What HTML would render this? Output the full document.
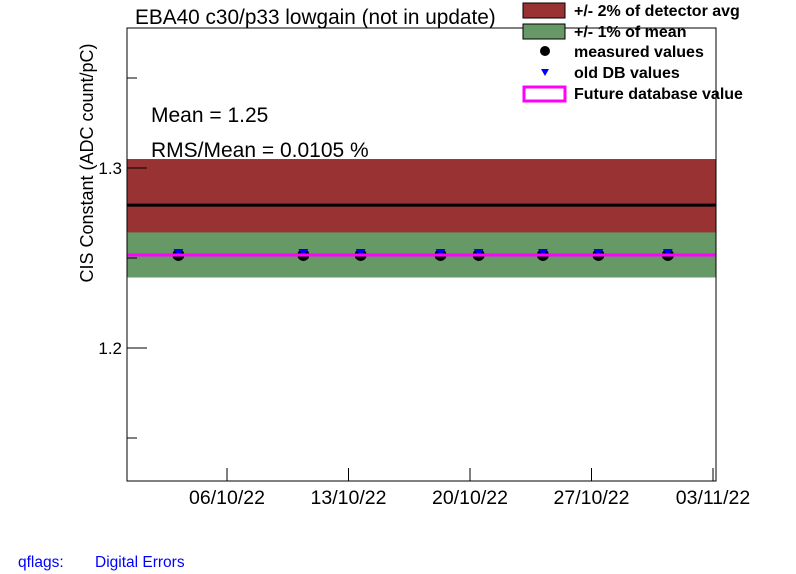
<!DOCTYPE html>
<html><head><meta charset="utf-8">
<style>
body{margin:0;background:#fff;}
svg{display:block;font-family:"Liberation Sans",Arial,sans-serif;}
</style></head>
<body>
<svg id="c" width="796" height="574" viewBox="0 0 796 574">
<rect width="796" height="574" fill="#fff"/>
<g id="plot"></g>
<text x="135" y="24" font-size="20.8">EBA40 c30/p33 lowgain (not in update)</text>
<text x="151" y="122" font-size="21">Mean = 1.25</text>
<text x="151" y="157" font-size="21">RMS/Mean = 0.0105 %</text>
<text transform="translate(93,163) rotate(-90)" text-anchor="middle" font-size="18">CIS Constant (ADC count/pC)</text>
<g font-size="16" font-weight="bold">
<rect x="523" y="3" width="42" height="15" fill="#993333" stroke="#000" stroke-width="1"/>
<text x="574" y="16">+/- 2% of detector avg</text>
<rect x="523" y="24" width="42" height="15" fill="#669966" stroke="#000" stroke-width="1"/>
<text x="574" y="37">+/- 1% of mean</text>
<circle cx="545" cy="51" r="5" fill="#000"/>
<text x="574" y="57">measured values</text>
<polygon points="541,69 549,69 545,76" fill="#0000ff"/>
<text x="574" y="78">old DB values</text>
<rect x="524" y="87" width="41" height="14" fill="none" stroke="#ff00ff" stroke-width="3"/>
<text x="574" y="99">Future database value</text>
</g>
<text x="18" y="567" font-size="15.5" fill="#0000ff">qflags:</text>
<text x="95" y="567" font-size="15.5" fill="#0000ff">Digital Errors</text>
</svg>
<script>
// data (days relative to 06/10/22)
const pointDays = [-2.8, 4.4, 7.7, 12.3, 14.5, 18.2, 21.4, 25.4];
const measuredValues = [1.2517, 1.2517, 1.2517, 1.2517, 1.2517, 1.2517, 1.2517, 1.2517];
const oldDbValues = [1.2517, 1.2517, 1.2517, 1.2517, 1.2517, 1.2517, 1.2517, 1.2517];
const detectorAvg = 1.2794;
const meanValue = 1.2517;
const futureDbValue = 1.2517;
const xTickDays = [0, 7, 14, 21, 28];
const xTickLabels = ["06/10/22", "13/10/22", "20/10/22", "27/10/22", "03/11/22"];
const yTickValues = [1.15, 1.2, 1.25, 1.3, 1.35];
const yTickLabels = ["", "1.2", "", "1.3", ""];

const L=127,R=716,T=28,B=481;
const X=d=>227+d*(121.5/7);
const Y=v=>168+(1.3-v)*1800;
const ns="http://www.w3.org/2000/svg";
const g=document.getElementById('plot');
function mk(t,a){const e=document.createElementNS(ns,t);for(const k in a)e.setAttribute(k,a[k]);g.appendChild(e);return e;}
function cl(v){return Math.max(T,Math.min(B,v));}

let y1=cl(Y(detectorAvg*1.02)),y2=cl(Y(detectorAvg*0.98));
let e=mk('rect',{x:L,y:y1,width:R-L,height:y2-y1,fill:'#993333'});


y1=cl(Y(meanValue*1.01));y2=cl(Y(meanValue*0.99));
e=mk('rect',{x:L,y:y1,width:R-L,height:y2-y1,fill:'#669966'});


e=mk('line',{x1:L,x2:R,y1:Y(detectorAvg),y2:Y(detectorAvg),stroke:'#000','stroke-width':3});



pointDays.forEach((d,i)=>{
  let c=mk('circle',{cx:X(d),cy:Y(measuredValues[i]),r:6,fill:'#000'});
  
  
  const x=X(d),y=Y(oldDbValues[i]);
  let p=mk('polygon',{points:`${x-5},${y-6} ${x+5},${y-6} ${x},${y+1}`,fill:'#0000ff'});
  
  
});
e=mk('line',{x1:L,x2:R,y1:Y(futureDbValue),y2:Y(futureDbValue),stroke:'#ff00ff','stroke-width':3});



e=mk('rect',{x:L,y:T,width:R-L,height:B-T,fill:'none',stroke:'#000','stroke-width':1});



xTickDays.forEach((d,i)=>{
  const x=X(d);
  let t=mk('line',{x1:x,x2:x,y1:B,y2:B-13,stroke:'#000'});
  
  
  let tx=mk('text',{x:x,y:B+23,'text-anchor':'middle','font-size':19.5});
  tx.textContent=xTickLabels[i];
  
  
});
yTickValues.forEach((v,i)=>{
  const y=Y(v);
  let t=mk('line',{x1:L,x2:L+(yTickLabels[i]?20:10),y1:y,y2:y,stroke:'#000'});
  
  
  if(yTickLabels[i]){
    let tx=mk('text',{x:L-5,y:y+6,'text-anchor':'end','font-size':17});
    tx.textContent=yTickLabels[i];
    
    
  }
});
</script>
</body></html>
